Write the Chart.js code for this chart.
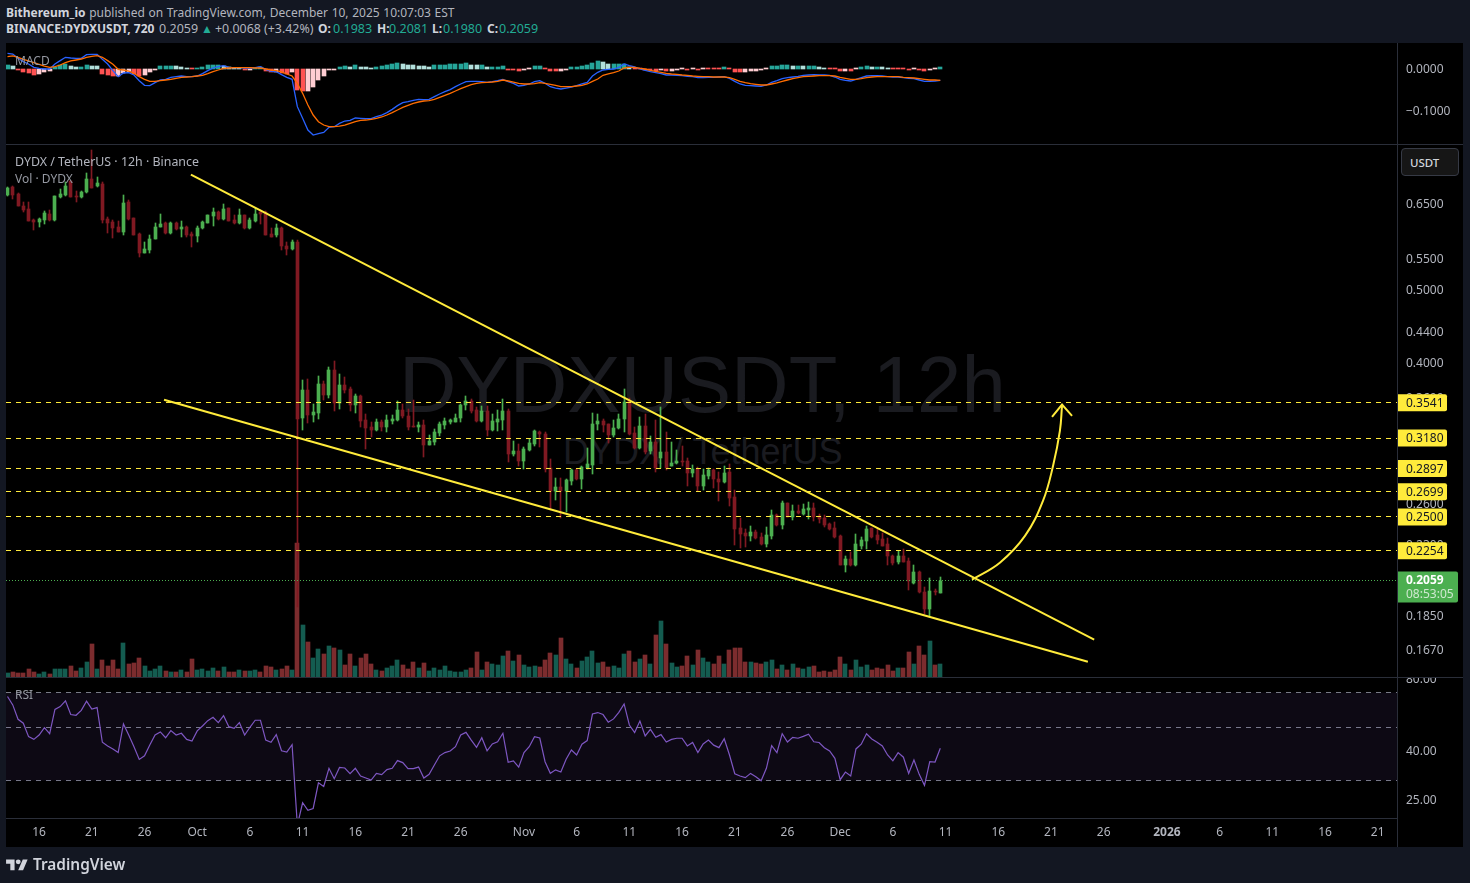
<!DOCTYPE html>
<html>
<head>
<meta charset="utf-8">
<title>DYDXUSDT 12h</title>
<script src="https://cdn.jsdelivr.net/npm/chart.js@4/dist/chart.umd.js"></script>
<style>
html, body { margin: 0; padding: 0; width: 1470px; height: 883px; overflow: hidden; background: #131722; font-family: "Noto Sans", sans-serif; }
#panel { position: absolute; left: 6px; top: 43px; width: 1457px; height: 804px; background: #000; }
canvas { position: absolute; left: 0; }
.txt { position: absolute; white-space: nowrap; }
.line { position: absolute; background: #2a2e39; }
.head { font-size: 12px; color: #b2b5be; line-height: 16px; }
.head b { color: #d1d4dc; }
.num { font-size: 12.5px; }
.teal { color: #22ab94; }
.pane { left: 15px; font-size: 12px; color: #9598a1; line-height: 16px; }
.mark { color: #1a1b20; font-family: "Liberation Sans", sans-serif; line-height: 1; }
#usdt { position: absolute; left: 1401px; top: 148px; width: 58px; height: 28px; box-sizing: border-box; background: #161616; border: 1px solid #363a45; border-radius: 4px; color: #d1d4dc; font-size: 11.5px; font-weight: 500; line-height: 28px; padding-left: 8px; }
</style>
</head>
<body>
<div id="panel"></div>
<div class="txt head" style="left:6px;top:5px;word-spacing:0.5px"><b>Bithereum_io</b> published on TradingView.com, December 10, 2025 10:07:03 EST</div>
<div class="txt head" style="left:6px;top:21px"><b>BINANCE:DYDXUSDT, 720</b></div>
<div class="txt head num" style="left:159px;top:21px">0.2059</div>
<div class="txt head teal" style="left:201px;top:21px">▲</div>
<div class="txt head" style="left:215px;top:21px;font-size:12.4px">+0.0068 (+3.42%)</div>
<div class="txt head" style="left:318px;top:21px"><b>O:</b></div><div class="txt head num teal" style="left:333px;top:21px">0.1983</div>
<div class="txt head" style="left:377px;top:21px"><b>H:</b></div><div class="txt head num teal" style="left:389px;top:21px">0.2081</div>
<div class="txt head" style="left:432px;top:21px"><b>L:</b></div><div class="txt head num teal" style="left:443px;top:21px">0.1980</div>
<div class="txt head" style="left:487px;top:21px"><b>C:</b></div><div class="txt head num teal" style="left:499px;top:21px">0.2059</div>
<div class="txt mark" style="left:399px;top:345px;font-size:79.7px">DYDXUSDT, 12h</div>
<div class="txt mark" style="left:563px;top:434px;font-size:36px">DYDX / TetherUS</div>

<canvas id="macdChart" width="1470" height="101" style="top:43px"></canvas>
<canvas id="priceChart" width="1470" height="532" style="top:145px"></canvas>
<canvas id="rsiChart" width="1470" height="169" style="top:678px"></canvas>

<div class="line" style="left:6px;top:144px;width:1457px;height:1px"></div>
<div class="line" style="left:6px;top:677px;width:1457px;height:1px"></div>
<div class="line" style="left:6px;top:818px;width:1391px;height:1px"></div>
<div class="line" style="left:1397px;top:43px;width:1px;height:804px"></div>

<div class="txt pane" style="top:53px">MACD</div>
<div class="txt pane" style="top:154px;color:#b2b5be;font-size:12.4px">DYDX / TetherUS · 12h · Binance</div>
<div class="txt pane" style="top:171px">Vol · DYDX</div>
<div class="txt pane" style="top:687px">RSI</div>
<div id="usdt">USDT</div>

<svg style="position:absolute;left:6px;top:857px" width="22" height="17" viewBox="0 0 36 28"><path fill="#d1d4dc" d="M14 22H7V11H0V4h14v18zM28 22h-8l7.5-18h8L28 22z"/><circle fill="#d1d4dc" cx="20" cy="8" r="4"/></svg>
<div class="txt" style="left:33px;top:855px;font-size:15.4px;font-weight:600;color:#d1d4dc;line-height:20px">TradingView</div>

<script>
// --- DATA ---
const OPENS = [
  .668,.684,.670,.646,.640,.619,.614,.619,.630,.619,
  .663,.668,.697,.665,.663,.673,.701,.685,.690,.620,
  .614,.606,.597,.653,.623,.593,.560,.565,.583,.605,
  .612,.595,.612,.601,.606,.593,.589,.604,.613,.626,
  .634,.620,.641,.618,.613,.627,.603,.616,.633,.633,
  .593,.590,.603,.572,.566,.579,.3376,.3684,.3409,.3433,
  .3752,.3622,.3918,.3539,.3741,.3695,.3514,.3610,.3358,.3285,
  .3258,.3338,.3288,.3345,.3358,.3461,.3405,.3298,.3288,.3308,
  .3113,.3145,.3232,.3308,.3338,.3341,.3385,.3514,.3556,.3468,
  .3348,.3454,.3258,.3338,.3358,.3454,.3030,.3058,.2961,.3064,
  .3120,.3238,.3219,.2902,.2709,.2742,.2703,.2793,.2887,.2810,
  .2905,.2932,.3314,.3348,.3321,.3206,.3274,.3365,.3557,.3233,
  .3083,.3303,.3055,.3146,.2991,.3043,.2919,.2946,.2961,.2961,
  .2858,.2890,.2745,.2829,.2887,.2804,.2781,.2863,.2654,.2414,
  .2378,.2359,.2388,.2349,.2302,.2361,.2518,.2439,.2607,.2498,
  .2544,.2526,.2552,.2568,.2506,.2491,.2446,.2414,.2361,.2161,
  .2200,.2161,.2291,.2326,.2414,.2366,.2337,.2302,.2220,.2176,
  .2220,.2187,.2044,.2116,.1991,.1886,.1997,.1983];
const HIGHS = [
  .684,.685,.672,.653,.654,.620,.623,.636,.637,.666,
  .680,.694,.697,.675,.675,.714,.765,.705,.694,.624,
  .618,.617,.667,.658,.623,.595,.578,.590,.612,.630,
  .614,.614,.614,.617,.608,.596,.608,.617,.628,.641,
  .636,.649,.642,.628,.640,.627,.623,.642,.637,.635,
  .603,.611,.605,.578,.581,.582,.3798,.3809,.3532,.3848,
  .3790,.3954,.4026,.3867,.3836,.3714,.3640,.3622,.3426,.3341,
  .3365,.3358,.3409,.3409,.3556,.3532,.3479,.3567,.3341,.3358,
  .3209,.3268,.3341,.3385,.3375,.3419,.3532,.3610,.3585,.3496,
  .3503,.3507,.3426,.3468,.3585,.3479,.3151,.3123,.3092,.3170,
  .3258,.3251,.3235,.2984,.2815,.2815,.2806,.2892,.2893,.2916,
  .3089,.3436,.3419,.3365,.3324,.3358,.3419,.3688,.3593,.3286,
  .3388,.3422,.3204,.3360,.3499,.3236,.3140,.3070,.3099,.2994,
  .2925,.2910,.2895,.2904,.2895,.2866,.2916,.2934,.2717,.2494,
  .2407,.2431,.2402,.2383,.2421,.2557,.2526,.2623,.2612,.2596,
  .2591,.2604,.2617,.2612,.2526,.2513,.2451,.2458,.2366,.2220,
  .2245,.2373,.2349,.2433,.2419,.2409,.2378,.2342,.2227,.2256,
  .2265,.2205,.2161,.2122,.2020,.2075,.2007,.2081];
const LOWS = [
  .666,.659,.645,.633,.617,.599,.605,.611,.617,.617,
  .661,.666,.663,.654,.661,.671,.681,.684,.612,.594,
  .585,.596,.590,.619,.590,.552,.559,.559,.583,.605,
  .593,.593,.599,.587,.588,.570,.578,.602,.612,.608,
  .618,.618,.616,.610,.610,.602,.601,.614,.611,.590,
  .587,.588,.565,.555,.564,.1900,.3258,.3331,.3341,.3368,
  .3567,.3596,.3451,.3471,.3647,.3451,.3433,.3291,.3076,.3187,
  .3251,.3251,.3241,.3324,.3348,.3385,.3258,.3288,.3238,.2997,
  .3110,.3113,.3199,.3265,.3324,.3338,.3338,.3468,.3433,.3338,
  .3341,.3199,.3248,.3248,.3258,.2952,.3012,.2922,.2896,.3058,
  .3104,.3098,.2864,.2552,.2636,.2490,.2540,.2759,.2801,.2725,
  .2896,.2852,.3258,.3238,.3135,.3193,.3265,.3237,.3210,.3074,
  .3074,.3025,.3025,.2866,.2904,.2881,.2916,.2940,.2916,.2745,
  .2823,.2703,.2711,.2809,.2731,.2625,.2772,.2586,.2295,.2277,
  .2284,.2323,.2337,.2295,.2284,.2335,.2429,.2407,.2496,.2476,
  .2526,.2513,.2483,.2468,.2456,.2421,.2402,.2347,.2156,.2111,
  .2154,.2150,.2268,.2268,.2347,.2302,.2288,.2161,.2161,.2167,
  .2176,.2003,.2040,.1983,.1861,.1844,.1967,.1980];
const CLOSES = [
  .681,.668,.645,.638,.617,.614,.621,.631,.619,.665,
  .670,.687,.663,.663,.674,.700,.681,.692,.619,.612,
  .604,.597,.651,.620,.591,.560,.566,.584,.606,.611,
  .595,.612,.601,.606,.591,.589,.604,.614,.627,.634,
  .620,.640,.617,.613,.627,.603,.618,.630,.630,.591,
  .588,.603,.571,.566,.579,.3374,.3684,.3409,.3444,.3752,
  .3622,.3918,.3539,.3741,.3684,.3521,.3610,.3351,.3278,.3258,
  .3338,.3288,.3358,.3368,.3461,.3399,.3288,.3291,.3308,.3113,
  .3151,.3235,.3318,.3348,.3358,.3385,.3521,.3556,.3451,.3348,
  .3454,.3258,.3348,.3372,.3454,.3030,.3058,.2961,.3076,.3129,
  .3248,.3219,.2896,.2709,.2742,.2703,.2801,.2887,.2810,.2913,
  .2940,.3324,.3348,.3305,.3206,.3278,.3375,.3547,.3220,.3083,
  .3303,.3049,.3146,.2904,.3043,.2901,.2949,.2961,.2955,.2858,
  .2890,.2745,.2837,.2881,.2804,.2781,.2860,.2649,.2407,.2376,
  .2359,.2388,.2342,.2302,.2366,.2518,.2439,.2607,.2498,.2544,
  .2531,.2560,.2568,.2496,.2483,.2439,.2407,.2352,.2161,.2200,
  .2159,.2302,.2330,.2409,.2352,.2330,.2291,.2216,.2172,.2220,
  .2178,.2055,.2116,.1987,.1886,.1997,.1987,.2059];
// relative volume, only the proportions can be read because the pane has no scale
const VOLUMES = [
  12,16,13,13,25,16,10,16,10,25,
  23,25,34,19,28,46,100,25,52,34,
  52,25,103,40,43,58,34,19,25,34,
  19,16,16,22,16,55,22,24,19,28,
  19,31,16,16,22,19,19,22,16,34,
  31,22,25,34,22,403,157,106,58,85,
  70,94,88,82,37,70,34,58,70,40,
  22,19,28,34,52,37,25,46,28,43,
  19,28,22,34,19,16,16,22,28,76,
  22,46,40,37,64,79,49,67,37,31,
  34,31,52,73,67,118,55,40,28,49,
  61,79,43,46,31,34,28,70,79,46,
  55,67,40,127,169,100,43,31,34,64,
  37,82,58,46,40,64,40,82,88,88,
  46,46,43,40,46,52,25,37,22,40,
  28,25,31,34,16,19,16,22,61,40,
  22,52,31,37,22,28,25,37,19,28,
  28,76,40,94,67,109,37,40];
const RSI_VALUES = [
  67.2,62.0,54.0,52.0,45.7,44.5,46.4,49.8,47.0,59.4,
  61.0,64.5,56.5,56.1,58.8,64.3,59.6,60.4,43.3,41.8,
  40.6,39.2,51.6,46.4,41.5,36.7,38.0,42.2,46.4,47.8,
  45.2,48.4,46.4,47.2,44.5,43.8,48.3,50.6,53.3,55.0,
  52.3,55.9,50.3,49.5,52.3,46.4,50.0,53.5,53.5,44.2,
  43.3,46.6,39.9,39.4,42.3,19.5,24.2,22.5,22.9,29.3,
  28.3,33.7,30.5,34.0,33.8,32.0,33.7,31.3,30.7,30.1,
  32.1,31.7,33.3,33.7,36.3,35.6,33.6,33.6,34.1,30.7,
  31.8,34.8,38.0,39.2,39.8,41.5,46.4,47.6,44.2,41.2,
  45.2,39.9,42.6,43.5,47.2,35.7,36.2,34.1,39.2,41.5,
  45.7,45.1,35.9,32.1,33.2,32.5,36.8,40.2,38.3,42.5,
  44.0,56.8,57.6,56.5,52.5,54.2,57.7,62.6,51.1,47.5,
  53.1,46.0,49.0,45.4,46.6,43.4,44.5,45.0,45.0,41.8,
  43.2,39.2,42.6,44.2,42.1,41.1,44.8,38.3,32.0,31.3,
  30.8,32.1,31.1,29.9,33.7,41.9,39.2,47.0,43.4,45.4,
  45.0,45.8,46.8,43.5,43.2,41.1,39.8,37.1,30.2,32.5,
  31.3,40.6,42.5,47.0,44.7,43.3,41.8,38.3,36.2,39.2,
  37.5,32.1,36.5,31.8,28.6,35.9,35.8,40.9];
const MACD_LINE = [
  .0373,.0357,.0254,.0175,.0119,.0040,.0016,0,0,.0119,
  .0199,.0278,.0262,.0254,.0254,.0341,.0349,.0349,.0230,.0119,
  -.0040,-.0183,-.0095,-.0087,-.0143,-.0278,-.0389,-.0397,-.0326,-.0262,
  -.0246,-.0199,-.0183,-.0167,-.0183,-.0183,-.0167,-.0111,-.0040,.0024,
  .0056,.0079,.0040,.0032,.0032,.0024,.0024,.0032,.0056,-.0008,
  -.0056,-.0064,-.0135,-.0199,-.0246,-.0897,-.1175,-.1453,-.1572,-.1540,
  -.1509,-.1390,-.1374,-.1294,-.1239,-.1223,-.1167,-.1175,-.1183,-.1183,
  -.1135,-.1096,-.1040,-.0961,-.0873,-.0802,-.0778,-.0746,-.0723,-.0730,
  -.0723,-.0659,-.0596,-.0540,-.0492,-.0421,-.0357,-.0302,-.0294,-.0294,
  -.0302,-.0318,-.0302,-.0278,-.0246,-.0302,-.0341,-.0405,-.0389,-.0357,
  -.0302,-.0278,-.0341,-.0421,-.0453,-.0476,-.0453,-.0429,-.0397,-.0357,
  -.0318,-.0167,-.0079,-.0024,-.0008,0,.0040,.0119,.0079,.0048,
  0,-.0032,-.0064,-.0087,-.0111,-.0143,-.0143,-.0151,-.0159,-.0175,
  -.0183,-.0206,-.0206,-.0199,-.0199,-.0191,-.0183,-.0222,-.0294,-.0357,
  -.0389,-.0397,-.0405,-.0413,-.0381,-.0318,-.0278,-.0230,-.0206,-.0191,
  -.0175,-.0151,-.0143,-.0135,-.0143,-.0143,-.0151,-.0191,-.0246,-.0270,
  -.0286,-.0246,-.0206,-.0167,-.0159,-.0159,-.0167,-.0183,-.0191,-.0191,
  -.0206,-.0222,-.0230,-.0262,-.0294,-.0294,-.0286,-.0270];
const SIGNAL_LINE = [
  .0294,.0310,.0278,.0230,.0191,.0151,.0111,.0071,.0040,.0056,
  .0095,.0151,.0191,.0214,.0238,.0278,.0302,.0318,.0278,.0199,
  .0111,-.0008,-.0024,-.0048,-.0103,-.0183,-.0246,-.0294,-.0294,-.0278,
  -.0262,-.0246,-.0222,-.0199,-.0191,-.0183,-.0167,-.0151,-.0111,-.0064,
  -.0024,.0016,.0024,.0032,.0032,.0032,.0032,.0024,.0024,0,
  -.0024,-.0040,-.0071,-.0119,-.0167,-.0341,-.0580,-.0858,-.1096,-.1255,
  -.1334,-.1374,-.1374,-.1358,-.1334,-.1294,-.1255,-.1223,-.1215,-.1199,
  -.1175,-.1143,-.1096,-.1040,-.0977,-.0913,-.0865,-.0818,-.0786,-.0762,
  -.0754,-.0723,-.0675,-.0627,-.0580,-.0524,-.0468,-.0421,-.0373,-.0341,
  -.0326,-.0318,-.0310,-.0294,-.0262,-.0286,-.0310,-.0341,-.0357,-.0357,
  -.0349,-.0326,-.0341,-.0365,-.0389,-.0421,-.0421,-.0421,-.0405,-.0389,
  -.0357,-.0294,-.0238,-.0151,-.0119,-.0087,-.0048,.0024,.0040,.0040,
  .0016,0,-.0032,-.0056,-.0079,-.0103,-.0119,-.0127,-.0143,-.0151,
  -.0167,-.0175,-.0183,-.0183,-.0191,-.0191,-.0191,-.0206,-.0246,-.0294,
  -.0326,-.0349,-.0365,-.0381,-.0381,-.0357,-.0333,-.0294,-.0262,-.0230,
  -.0206,-.0183,-.0175,-.0167,-.0159,-.0159,-.0159,-.0167,-.0199,-.0222,
  -.0246,-.0246,-.0230,-.0206,-.0191,-.0183,-.0183,-.0183,-.0183,-.0183,
  -.0199,-.0206,-.0214,-.0230,-.0246,-.0262,-.0262,-.0270];
const MACD_HIST = [
  .0103,.0079,-.0016,-.0071,-.0095,-.0135,-.0111,-.0071,-.0056,.0048,
  .0087,.0119,.0071,.0040,.0048,.0103,.0079,.0064,-.0111,-.0151,
  -.0175,-.0167,-.0095,-.0071,-.0119,-.0159,-.0151,-.0071,-.0016,.0064,
  .0064,.0079,.0064,.0056,.0032,-.0008,.0032,.0056,.0103,.0103,
  .0103,.0079,.0040,.0024,.0016,-.0032,-.0016,.0024,.0040,-.0056,
  -.0079,-.0071,-.0095,-.0119,-.0071,-.0492,-.0532,-.0516,-.0429,-.0254,
  -.0159,-.0032,-.0016,.0048,.0064,.0056,.0103,.0056,.0040,.0032,
  .0056,.0071,.0087,.0127,.0143,.0127,.0103,.0095,.0079,.0064,
  .0056,.0095,.0103,.0103,.0111,.0119,.0127,.0143,.0095,.0087,
  .0087,.0040,.0040,.0040,.0064,-.0032,-.0032,-.0048,-.0024,-.0008,
  .0064,.0064,-.0008,-.0056,-.0056,-.0048,-.0032,.0040,.0040,.0064,
  .0087,.0151,.0183,.0159,.0111,.0111,.0111,.0119,.0040,-.0008,
  -.0008,-.0024,-.0024,-.0048,-.0032,-.0048,-.0040,-.0024,-.0008,-.0024,
  -.0008,-.0024,-.0008,-.0008,-.0008,-.0008,.0040,-.0008,-.0071,-.0079,
  -.0071,-.0056,-.0048,-.0024,-.0008,.0064,.0064,.0087,.0087,.0079,
  .0079,.0064,.0064,.0064,.0040,.0032,-.0008,-.0008,-.0056,-.0048,
  -.0048,-.0008,.0040,.0064,.0056,.0056,.0040,.0032,-.0008,-.0008,
  -.0008,-.0032,-.0008,-.0032,-.0048,-.0032,-.0008,.0040];

const PRICE_TICKS = [0.65, 0.55, 0.5, 0.44, 0.4, 0.36, 0.26, 0.23, 0.185, 0.167];
const MACD_TICKS = [0, -0.1];
const RSI_TICKS = [80, 40, 25];
const RSI_LEVELS = [70, 50, 30];
const LEVELS = [0.3541, 0.3180, 0.2897, 0.2699, 0.2500, 0.2254];
const LAST_PRICE = 0.2059;
const COUNTDOWN = "08:53:05";
const TIME_LABELS = ["16","21","26","Oct","6","11","16","21","26","Nov","6","11","16","21","26","Dec","6","11","16","21","26","2026","6","11","16","21"];
const TIME_BARS = [6,16,26,36,46,56,66,76,86,98,108,118,128,138,148,158,168,178,188,198,208,220,230,240,250,260];

// drawings: bar index and price of each anchor
const UPPER_WEDGE = [[34.8, 0.7101], [206.2, 0.1719]];
const LOWER_WEDGE = [[29.7, 0.3574], [205.0, 0.1607]];
const ARROW_CURVE = [[183.0,0.2064],[188.3,0.2174],[193.1,0.2361],[196.5,0.2627],[198.4,0.2922],[199.7,0.3252],[200.1,0.3510]];
const ARROW_HEAD = [[198.2,0.3392],[200.1,0.3521],[202.0,0.3403]];

// --- SHARED SETTINGS ---
const X_MIN = -0.285, X_MAX = 263.66;
const UP = "#4caf50", DOWN = "#801922";
const YELLOW = "#ffeb3b";
const AXIS_COLOR = "#b2b5be";
// the second line of a label is what gets drawn; the tiny line height moves it down 1px
const AXIS_FONT = { family: "Noto Sans", size: 12, lineHeight: "2px" };
const bars = OPENS.map((_, i) => i);
const isUp = i => CLOSES[i] >= OPENS[i];

function series(values) { return values.map((v, i) => ({ x: i, y: v })); }
function pairs(list) { return list.map(p => ({ x: p[0], y: p[1] })); }
function flatLine(value) { return [{ x: X_MIN, y: value }, { x: X_MAX, y: value }]; }

function rightAxis(extra) {
  return Object.assign({
    position: "right",
    grid: { display: false, drawTicks: false },
    border: { display: false },
    // fixed axis width, and no room kept for half labels at the pane edges
    afterFit: s => { s.width = 73; s.paddingTop = 0; s.paddingBottom = 0; }
  }, extra);
}
function hiddenX() { return { type: "linear", min: X_MIN, max: X_MAX, offset: false, display: false }; }
function baseOptions(scales) {
  return {
    responsive: false, animation: false, devicePixelRatio: 1,
    layout: { padding: { left: 6, right: 0, top: 0, bottom: 0 }, autoPadding: false },
    plugins: { legend: { display: false }, tooltip: { enabled: false } },
    events: [],
    scales: scales
  };
}

// snap bars and flat level lines to whole pixels so they stay crisp like the original
const snapMarks = {
  id: "snapMarks",
  beforeDatasetsDraw(chart) {
    chart.getSortedVisibleDatasetMetas().forEach(meta => {
      if (meta.type === "line" && meta.data.length === 2 && meta.data[0].y === meta.data[1].y) {
        const y = Math.floor(meta.data[0].y) + 0.5;
        meta.data[0].y = y;
        meta.data[1].y = y;
      }
      if (meta.type !== "bar") return;
      meta.data.forEach(el => {
        el.x = el.width % 2 ? Math.floor(el.x) + 0.5 : Math.round(el.x);
        el.y = Math.round(el.y);
        el.base = Math.round(el.base);
        if (el.y === el.base) el.y = el.base - 1;
      });
    });
  }
};

// yellow level tags and the green last price tag on the price axis
const priceTags = {
  id: "priceTags",
  afterDraw(chart) {
    const ctx = chart.ctx, y = chart.scales.y;
    ctx.save();
    ctx.textBaseline = "middle";
    ctx.textAlign = "left";
    LEVELS.forEach(v => {
      const py = y.getPixelForValue(v);
      ctx.fillStyle = YELLOW;
      ctx.beginPath();
      ctx.roundRect(1398, py - 8.5, 49, 17, [0, 2, 2, 0]);
      ctx.fill();
      ctx.fillStyle = "#131722";
      ctx.font = "12px 'Noto Sans'";
      ctx.fillText(v.toFixed(4), 1406, py + 0.5);
    });
    const py = y.getPixelForValue(LAST_PRICE);
    ctx.fillStyle = UP;
    ctx.beginPath();
    ctx.roundRect(1398, py - 9, 60, 31, [0, 2, 2, 0]);
    ctx.fill();
    ctx.fillStyle = "#ffffff";
    ctx.font = "bold 12px 'Noto Sans'";
    ctx.fillText(LAST_PRICE.toFixed(4), 1406, py);
    ctx.fillStyle = "#cfe8d0";
    ctx.font = "12px 'Noto Sans'";
    ctx.fillText(COUNTDOWN, 1406, py + 14);
    ctx.restore();
  }
};

// --- MACD PANE ---
function histColor(i) {
  const v = MACD_HIST[i], prev = i ? MACD_HIST[i - 1] : 0;
  if (v >= 0) return v >= prev ? "#26a69a" : "#b2dfdb";
  return v <= prev ? "#ff5252" : "#ffcdd2";
}
new Chart(document.getElementById("macdChart"), {
  type: "bar",
  data: { datasets: [
    { type: "line", data: series(SIGNAL_LINE), borderColor: "#ff6d00", borderWidth: 1.3, pointRadius: 0, order: 1 },
    { type: "line", data: series(MACD_LINE), borderColor: "#2962ff", borderWidth: 1.3, pointRadius: 0, order: 2 },
    { data: series(MACD_HIST), backgroundColor: bars.map(histColor), barThickness: 4, grouped: false, order: 3 }
  ] },
  options: baseOptions({
    x: hiddenX(),
    y: rightAxis({
      min: -0.1786, max: 0.0619,
      afterBuildTicks: s => { s.ticks = MACD_TICKS.map(v => ({ value: v })); },
      ticks: { color: AXIS_COLOR, font: AXIS_FONT, padding: 9, autoSkip: false,
        callback: v => ["", (v < 0 ? "\u2212" : "") + Math.abs(v).toFixed(4)] }
    })
  }),
  plugins: [snapMarks]
});

// --- PRICE PANE ---
const candleColors = bars.map(i => isUp(i) ? UP : DOWN);
const volumeColors = bars.map(i => isUp(i) ? "#145c50" : "#7c2c2e");
const levelSets = LEVELS.map(v => ({
  type: "line", data: flatLine(v), borderColor: YELLOW, borderWidth: 1, borderDash: [5, 5], pointRadius: 0, order: 3
}));
new Chart(document.getElementById("priceChart"), {
  type: "bar",
  data: { datasets: [
    { type: "line", data: pairs(UPPER_WEDGE), borderColor: YELLOW, borderWidth: 2, pointRadius: 0, order: 1 },
    { type: "line", data: pairs(LOWER_WEDGE), borderColor: YELLOW, borderWidth: 2, pointRadius: 0, order: 1 },
    { type: "line", data: pairs(ARROW_CURVE), borderColor: YELLOW, borderWidth: 2, pointRadius: 0, tension: 0.4, order: 1 },
    { type: "line", data: pairs(ARROW_HEAD), borderColor: YELLOW, borderWidth: 2, pointRadius: 0, order: 1 },
    { type: "line", data: flatLine(LAST_PRICE), borderColor: UP, borderWidth: 1, borderDash: [1, 2], pointRadius: 0, order: 3 },
    ...levelSets,
    { data: bars.map(i => ({ x: i, y: [OPENS[i], CLOSES[i]] })), backgroundColor: candleColors, barThickness: 3, grouped: false, yAxisID: "y", order: 4 },
    { data: bars.map(i => ({ x: i, y: [LOWS[i], HIGHS[i]] })), backgroundColor: candleColors, barThickness: 1, grouped: false, yAxisID: "y", order: 5 },
    { data: series(VOLUMES), backgroundColor: volumeColors, barThickness: 4, grouped: false, yAxisID: "vol", order: 10 }
  ] },
  options: baseOptions({
    x: hiddenX(),
    y: rightAxis({
      type: "logarithmic", min: 0.1534, max: 0.7774,
      afterBuildTicks: s => { s.ticks = PRICE_TICKS.map(v => ({ value: v })); },
      ticks: { color: AXIS_COLOR, font: AXIS_FONT, padding: 9, autoSkip: false, callback: v => ["", Number(v).toFixed(4)] }
    }),
    vol: { type: "linear", min: 0, max: 1596, display: false }
  }),
  plugins: [snapMarks, priceTags]
});

// --- RSI PANE ---
const rsiLevelSets = RSI_LEVELS.map((v, i) => ({
  type: "line", data: flatLine(v), borderColor: "#787b86", borderWidth: 1, borderDash: [5, 5], pointRadius: 0, order: 2,
  fill: i === 0 ? "+2" : false, backgroundColor: "rgba(126,87,194,0.1)"
}));
new Chart(document.getElementById("rsiChart"), {
  type: "line",
  data: { datasets: [
    ...rsiLevelSets,
    { data: series(RSI_VALUES), borderColor: "#7e57c2", borderWidth: 1.2, pointRadius: 0, order: 1 }
  ] },
  options: baseOptions({
    x: {
      type: "linear", min: X_MIN, max: X_MAX, position: "bottom", offset: false,
      grid: { display: false, drawTicks: false },
      border: { display: false },
      afterFit: s => { s.height = 29; s.paddingLeft = 0; s.paddingRight = 0; },
      afterBuildTicks: s => { s.ticks = TIME_BARS.map(v => ({ value: v })); },
      ticks: {
        color: AXIS_COLOR, autoSkip: false, maxRotation: 0, padding: 7,
        font: c => ({ family: "Noto Sans", size: 12, weight: c.tick && c.tick.label === "2026" ? "bold" : "normal" }),
        callback: (v, i) => TIME_LABELS[i]
      }
    },
    y: rightAxis({
      type: "logarithmic", min: 20.9, max: 80.3,
      afterBuildTicks: s => { s.ticks = RSI_TICKS.map(v => ({ value: v })); },
      ticks: { color: AXIS_COLOR, font: AXIS_FONT, padding: 9, autoSkip: false, callback: v => ["", Number(v).toFixed(2)] }
    })
  }),
  plugins: [snapMarks]
});
</script>
</body>
</html>
